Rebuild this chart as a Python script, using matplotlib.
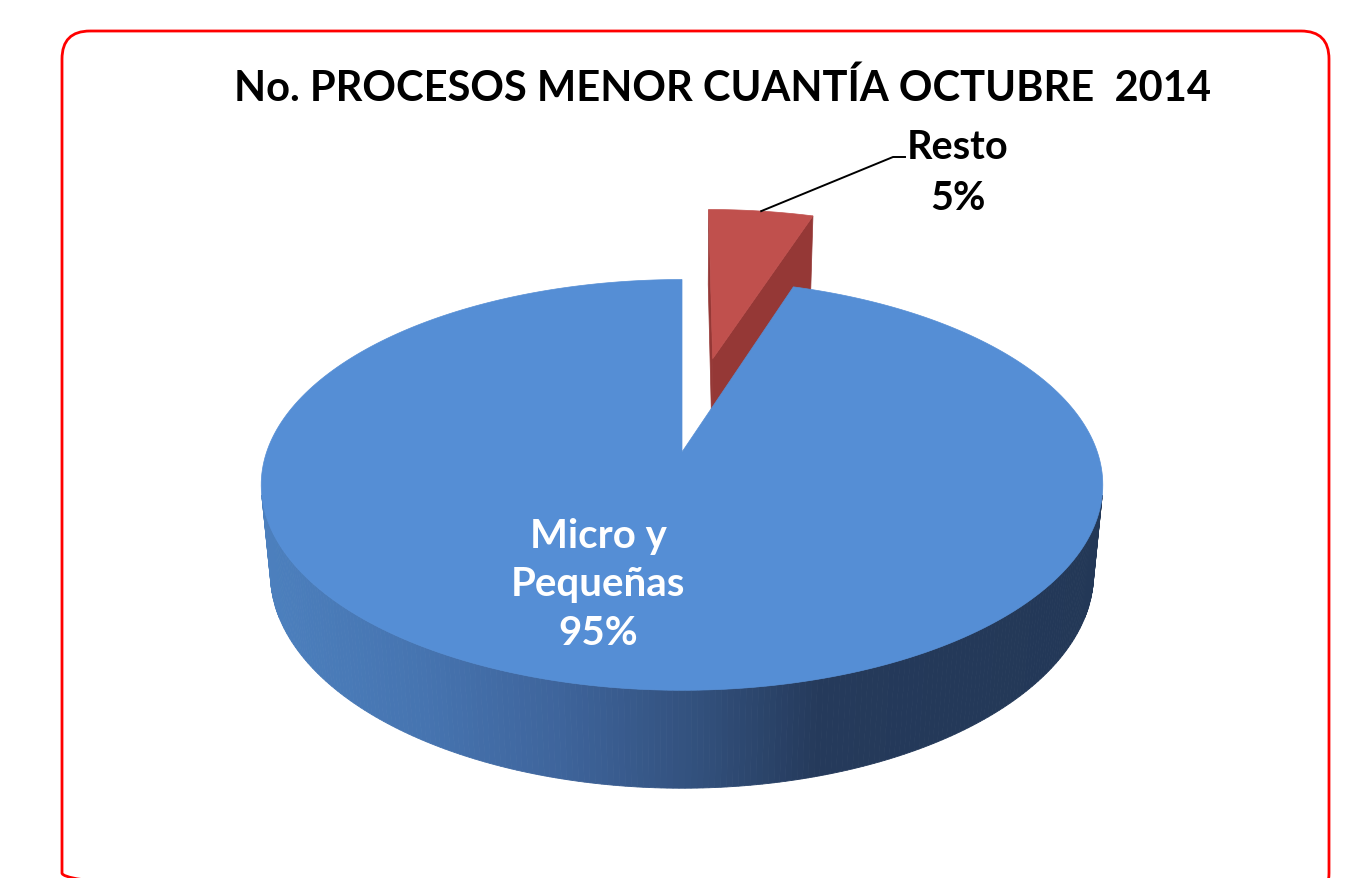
import numpy as np
import matplotlib.pyplot as plt
from matplotlib.patches import Polygon, FancyBboxPatch

# data
labels = ["Resto", "Micro y\nPequeñas"]
values = [5, 95]
explode = [0.51, 0.0]
top_colors = ["#C0504D", "#558ED5"]
cut_colors = ["#953836", "#3B64A0"]
title = "No. PROCESOS MENOR CUANTÍA OCTUBRE  2014"

# fake 3d view (perspective camera looking down on the pie)
PHI = np.radians(28.8)
DIST = 5.47
FOCAL = 2272.0
CX, CY = 682.0, 453.0
DEPTH = 0.246
c, s = np.cos(PHI), np.sin(PHI)


def project(x, y, z):
    vy = y + DIST * c
    vz = z - DIST * s
    up = vy * s + vz * c
    fwd = vy * c - vz * s
    return CX + FOCAL * x / fwd, CY - FOCAL * up / fwd


def rim(th, ox, oy, z):
    t = np.radians(th)
    return project(ox + np.sin(t), oy + np.cos(t), z)


def side_color(px):
    stops_x = [258, 420, 560, 700, 820, 1103]
    stops = np.array([[76, 128, 190], [70, 116, 176], [62, 100, 155],
                      [50, 80, 124], [37, 58, 91], [35, 56, 87]]) / 255
    return [np.interp(px, stops_x, stops[:, k]) for k in range(3)]


def main():
    fig = plt.figure(figsize=(13.49, 8.79), dpi=100)
    ax = fig.add_axes([0, 0, 1, 1])
    ax.set_xlim(0, 1349)
    ax.set_ylim(879, 0)
    ax.axis("off")

    frame = FancyBboxPatch((62, 32), 1267, 870, boxstyle="round,pad=0,rounding_size=28",
                           ec="#FF0000", fc="none", lw=2.0)
    ax.add_patch(frame)

    total = float(sum(values))
    starts = np.concatenate([[0], np.cumsum(values)[:-1]]) / total * 360
    ends = np.cumsum(values) / total * 360
    vis_lo = np.degrees(np.arccos(-1 / (DIST * c)))
    vis_hi = 360 - vis_lo

    for i in range(len(values)):
        th0, th1 = starts[i], ends[i]
        mid = np.radians((th0 + th1) / 2)
        ox, oy = explode[i] * np.sin(mid), explode[i] * np.cos(mid)
        ctop = project(ox, oy, 0)
        cbot = project(ox, oy, -DEPTH)

        # cut faces, only the ones turned to the camera
        for th, sign in ((th0, -1), (th1, 1)):
            t = np.radians(th)
            nx, ny = sign * np.cos(t), -sign * np.sin(t)
            if nx * (-ox) + ny * (-DIST * c - oy) > 0:
                pts = [ctop, rim(th, ox, oy, 0), rim(th, ox, oy, -DEPTH), cbot]
                ax.add_patch(Polygon(pts, closed=True, fc=cut_colors[i], ec=cut_colors[i], lw=0.5))

        # outer wall in thin strips for the shading
        lo, hi = max(th0, vis_lo), min(th1, vis_hi)
        if hi > lo:
            ths = np.linspace(lo, hi, 220)
            for a, b in zip(ths[:-1], ths[1:]):
                pts = [rim(a, ox, oy, 0), rim(b, ox, oy, 0), rim(b, ox, oy, -DEPTH), rim(a, ox, oy, -DEPTH)]
                col = side_color((pts[0][0] + pts[1][0]) / 2)
                ax.add_patch(Polygon(pts, closed=True, fc=col, ec=col, lw=0.6))

        arc = [rim(th, ox, oy, 0) for th in np.linspace(th0, th1, 300)]
        ax.add_patch(Polygon([ctop] + arc, closed=True, fc=top_colors[i], ec=top_colors[i], lw=0.5))

    pct = [f"{v / total * 100:.0f}%" for v in values]
    font = "Lato"

    ax.text(722, 88, title, ha="center", va="center", fontsize=30,
            fontweight="bold", family=font, color="black")

    # Resto label with leader line
    mid = np.radians((starts[0] + ends[0]) / 2)
    ox, oy = explode[0] * np.sin(mid), explode[0] * np.cos(mid)
    lx, ly = project(ox + np.sin(mid), oy + np.cos(mid), 0)
    ax.plot([lx, 893, 905], [ly, 158, 158], color="black", lw=1.4)
    ax.text(958, 173, labels[0] + "\n" + pct[0], ha="center", va="center", fontsize=28.5,
            fontweight="bold", family=font, color="black", linespacing=1.45)

    ax.text(598, 585, labels[1] + "\n" + pct[1], ha="center", va="center", fontsize=29,
            fontweight="bold", family=font, color="white", linespacing=1.38)

    fig.savefig("out.png", dpi=100)


if __name__ == "__main__":
    main()
